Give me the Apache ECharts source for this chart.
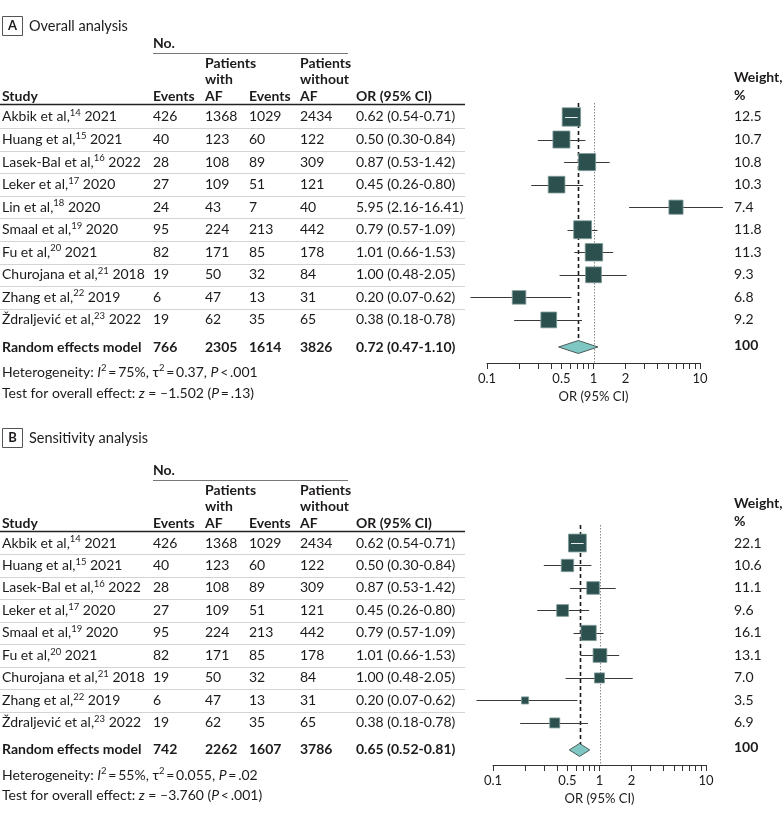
<!DOCTYPE html>
<html><head><meta charset="utf-8">
<script src="https://cdn.jsdelivr.net/npm/echarts@6/dist/echarts.min.js"></script>
<style>html,body{margin:0;padding:0;background:#fff}#c{width:783px;height:825px}</style>
</head><body><div id="c"></div>
<script>
// ---------- Panel A data ----------
const studiesA = ['Akbik et al,','Huang et al,','Lasek-Bal et al,','Leker et al,','Lin et al,','Smaal et al,','Fu et al,','Churojana et al,','Zhang et al,','Ždraljević et al,'];
const refsA = [14,15,16,17,18,19,20,21,22,23];
const yearsA = [2021,2021,2022,2020,2020,2020,2021,2018,2019,2022];
const eventsAfA = [426,40,28,27,24,95,82,19,6,19];
const totalAfA = [1368,123,108,109,43,224,171,50,47,62];
const eventsNoAfA = [1029,60,89,51,7,213,85,32,13,35];
const totalNoAfA = [2434,122,309,121,40,442,178,84,31,65];
const orA = [0.62,0.50,0.87,0.45,5.95,0.79,1.01,1.00,0.20,0.38];
const lowerA = [0.54,0.30,0.53,0.26,2.16,0.57,0.66,0.48,0.07,0.18];
const upperA = [0.71,0.84,1.42,0.80,16.41,1.09,1.53,2.05,0.62,0.78];
const weightA = [12.5,10.7,10.8,10.3,7.4,11.8,11.3,9.3,6.8,9.2];
const pooledCountsA = [766,2305,1614,3826];
const pooledOrA = [0.72,0.47,1.10];
const pooledWeightA = 100;
const hetA = ['75%','0.37','<','.001'];
const testA = ['–1.502','=','.13'];

// ---------- Panel B data ----------
const studiesB = ['Akbik et al,','Huang et al,','Lasek-Bal et al,','Leker et al,','Smaal et al,','Fu et al,','Churojana et al,','Zhang et al,','Ždraljević et al,'];
const refsB = [14,15,16,17,19,20,21,22,23];
const yearsB = [2021,2021,2022,2020,2020,2021,2018,2019,2022];
const eventsAfB = [426,40,28,27,95,82,19,6,19];
const totalAfB = [1368,123,108,109,224,171,50,47,62];
const eventsNoAfB = [1029,60,89,51,213,85,32,13,35];
const totalNoAfB = [2434,122,309,121,442,178,84,31,65];
const orB = [0.62,0.50,0.87,0.45,0.79,1.01,1.00,0.20,0.38];
const lowerB = [0.54,0.30,0.53,0.26,0.57,0.66,0.48,0.07,0.18];
const upperB = [0.71,0.84,1.42,0.80,1.09,1.53,2.05,0.62,0.78];
const weightB = [22.1,10.6,11.1,9.6,16.1,13.1,7.0,3.5,6.9];
const pooledCountsB = [742,2262,1607,3786];
const pooledOrB = [0.65,0.52,0.81];
const pooledWeightB = 100;
const hetB = ['55%','0.055','=','.02'];
const testB = ['–3.760','<','.001'];

// axis ticks
const tickValues = [0.1,0.2,0.3,0.4,0.5,0.6,0.7,0.8,0.9,1,2,3,4,5,6,7,8,9,10];
const tickLabels = [0.1,0.5,1,2,10];

// ---------- styling / layout ----------
const FONT = 'Lato, "Open Sans", sans-serif';
const TXT = '#1d1a1b';
const SQ = '#2b504e';
const DIA = '#7fc7c2';
const COLS = {study:2, ev1:153, tot1:205, ev2:249, tot2:300, or:356, w:734, tableEnd:465};
function richSet(size, bold){
  const fw = bold ? 'bold' : 'normal';
  return {
    n:{fontSize:size,fontFamily:FONT,fill:TXT,fontWeight:fw,lineHeight:18,verticalAlign:'middle'},
    b:{fontSize:size,fontFamily:FONT,fill:TXT,fontWeight:'bold',lineHeight:18,verticalAlign:'middle'},
    i:{fontSize:size,fontFamily:FONT,fill:TXT,fontStyle:'italic',lineHeight:18,verticalAlign:'middle'},
    s:{fontSize:9.5,fontFamily:FONT,fill:TXT,lineHeight:11,verticalAlign:'top'}
  };
}
function txt(x,y,text,opt){
  opt = opt||{};
  return {type:'text', x:x, y:y, silent:true, style:{text:text, fill:TXT, fontFamily:FONT,
    fontSize:opt.size||14, fontWeight:opt.bold?'bold':'normal', verticalAlign:'middle', align:opt.align||'left',
    rich: richSet(opt.size||14, opt.bold)}};
}
function line(x1,y1,x2,y2,color,w,dash){
  return {type:'line', silent:true, shape:{x1:x1,y1:y1,x2:x2,y2:y2}, style:{stroke:color,lineWidth:w,lineDash:dash||null}};
}

function headerGraphics(dy, titleY, letter, title, wy){
  return [
    {type:'rect', silent:true, shape:{x:2.5,y:titleY-9.5,width:20,height:19}, style:{fill:'#fff',stroke:'#555',lineWidth:1}},
    txt(12.5,titleY,letter,{bold:true,size:13,align:'center'}),
    txt(29,titleY,title,{size:14.5}),
    txt(COLS.ev1,43+dy,'No.',{bold:true}),
    line(COLS.ev1,53.5+dy,348,53.5+dy,'#777',1),
    txt(COLS.tot1,63+dy,'Patients',{bold:true}),
    txt(COLS.tot1,79.5+dy,'with',{bold:true}),
    txt(COLS.tot2,63+dy,'Patients',{bold:true}),
    txt(COLS.tot2,79.5+dy,'without',{bold:true}),
    txt(COLS.study,96+dy,'Study',{bold:true}),
    txt(COLS.ev1,96+dy,'Events',{bold:true}),
    txt(COLS.tot1,96+dy,'AF',{bold:true}),
    txt(COLS.ev2,96+dy,'Events',{bold:true}),
    txt(COLS.tot2,96+dy,'AF',{bold:true}),
    txt(COLS.or,96+dy,'OR (95% CI)',{bold:true}),
    line(0,104.5+dy,COLS.tableEnd,104.5+dy,'#222',1.5),
    txt(COLS.w,wy,'Weight,',{bold:true}),
    txt(COLS.w,wy+18,'%',{bold:true})
  ];
}
function footerGraphics(y1,y2,het,test){
  return [
    txt(COLS.study,y1,'{n|Heterogeneity: }{i|I}{s|2}{n|\u2009=\u2009'+het[0]+', τ}{s|2}{n|\u2009=\u2009'+het[1]+', }{i|P}{n|\u2009'+het[2]+'\u2009'+het[3]+'}'),
    txt(COLS.study,y2,'{n|Test for overall effect: }{i|z}{n| = '+test[0]+' (}{i|P}{n|\u2009'+test[1]+'\u2009'+test[2]+')}')
  ];
}

function tableSeries(g, d){
  const n = d.names.length;
  const data = d.names.map((_,i)=>[1,i]);
  data.push([1,d.poolRow]);
  return {type:'custom', xAxisIndex:g, yAxisIndex:g, clip:false, silent:true, z:1, data:data,
    renderItem:function(params, api){
      const idx = params.dataIndex;
      const y = api.coord([1, api.value(1)])[1];
      const ch = [];
      if (idx < n) {
        ch.push(txt(COLS.study,y,'{n|'+d.names[idx]+'}{s|'+d.refs[idx]+'}{n| '+d.years[idx]+'}'));
        ch.push(txt(COLS.ev1,y,String(d.e1[idx])));
        ch.push(txt(COLS.tot1,y,String(d.t1[idx])));
        ch.push(txt(COLS.ev2,y,String(d.e2[idx])));
        ch.push(txt(COLS.tot2,y,String(d.t2[idx])));
        ch.push(txt(COLS.or,y,d.or[idx].toFixed(2)+' ('+d.lo[idx].toFixed(2)+'-'+d.hi[idx].toFixed(2)+')'));
        ch.push(txt(COLS.w,y,d.w[idx].toFixed(1)));
        if (idx < n-1) {
          const ys = Math.round(api.coord([1, idx+0.5])[1])+0.5;
          ch.push(line(0,ys,COLS.tableEnd,ys,'#d4d4d4',1));
        }
      } else {
        const o = {bold:true};
        ch.push(txt(COLS.study,y,'Random effects model',o));
        ch.push(txt(COLS.ev1,y,String(d.pc[0]),o));
        ch.push(txt(COLS.tot1,y,String(d.pc[1]),o));
        ch.push(txt(COLS.ev2,y,String(d.pc[2]),o));
        ch.push(txt(COLS.tot2,y,String(d.pc[3]),o));
        ch.push(txt(COLS.or,y,d.po[0].toFixed(2)+' ('+d.po[1].toFixed(2)+'-'+d.po[2].toFixed(2)+')',o));
        ch.push(txt(COLS.w,y-2,String(d.pw),o));
      }
      return {type:'group', children:ch};
    }};
}

function refLineSeries(g, d){
  return {type:'custom', xAxisIndex:g, yAxisIndex:g, clip:false, silent:true, z:2,
    data:[[d.po[0], d.poolRow]],
    renderItem:function(params, api){
      const cs = params.coordSys;
      const x = Math.round(api.coord([api.value(0), 0])[0])+0.5;
      const x1 = Math.round(api.coord([1, 0])[0])+0.5;
      const yp = api.coord([1, api.value(1)])[1];
      return {type:'group', children:[
        line(x1, cs.y, x1, cs.y+cs.height, '#8a8a8a', 1, [1.5,1.5]),
        line(x, cs.y, x, yp, '#1a1a1a', 1.6, [4,3])
      ]};
    }};
}

function forestSeries(g, d, k){
  const data = d.or.map((v,i)=>[v, i, d.lo[i], d.hi[i], d.w[i]]);
  return {type:'custom', xAxisIndex:g, yAxisIndex:g, clip:false, silent:true, z:3, data:data,
    encode:{x:0,y:1},
    renderItem:function(params, api){
      const c = api.coord([api.value(0), api.value(1)]);
      const l = api.coord([api.value(2), api.value(1)])[0];
      const h = api.coord([api.value(3), api.value(1)])[0];
      const s = k*Math.sqrt(api.value(4));
      const y = Math.round(c[1])+0.5;
      const ch = [
        line(l,y,h,y,'#3a3a3a',1),
        {type:'rect', silent:true, shape:{x:c[0]-s/2,y:c[1]-s/2,width:s,height:s}, style:{fill:SQ,stroke:'#7d9997',lineWidth:0.8}}
      ];
      if (l > c[0]-s/2 && h < c[0]+s/2) ch.push(line(l,y,h,y,'#e8eeee',1));
      return {type:'group', children:ch};
    }};
}

function diamondSeries(g, d){
  return {type:'custom', xAxisIndex:g, yAxisIndex:g, clip:false, silent:true, z:4,
    data:[[d.po[0], d.poolRow, d.po[1], d.po[2]]], encode:{x:0,y:1},
    renderItem:function(params, api){
      const c = api.coord([api.value(0), api.value(1)]);
      const l = api.coord([api.value(2), api.value(1)])[0];
      const h = api.coord([api.value(3), api.value(1)])[0];
      const hh = 6.5;
      return {type:'polygon', silent:true, shape:{points:[[l,c[1]],[c[0],c[1]-hh],[h,c[1]],[c[0],c[1]+hh]]},
        style:{fill:DIA, stroke:'#2e3a39', lineWidth:0.8}};
    }};
}

function xAxisFor(g){
  return {type:'log', logBase:10, gridIndex:g, min:0.1, max:10, position:'bottom',
    name:'OR (95% CI)', nameLocation:'middle', nameGap:27,
    nameTextStyle:{fontFamily:FONT,fontSize:13,color:TXT},
    axisLine:{show:true,onZero:false,lineStyle:{color:'#333',width:1}},
    axisTick:{show:true,length:6,customValues:tickValues,lineStyle:{color:'#333',width:1}},
    minorTick:{show:false},
    axisLabel:{customValues:tickLabels,fontFamily:FONT,fontSize:13,color:TXT,margin:9,
      formatter:function(v){return String(+(+v).toPrecision(3));}},
    splitLine:{show:false}};
}

const dA = {names:studiesA, refs:refsA, years:yearsA, e1:eventsAfA, t1:totalAfA, e2:eventsNoAfA, t2:totalNoAfA,
  or:orA, lo:lowerA, hi:upperA, w:weightA, pc:pooledCountsA, po:pooledOrA, pw:pooledWeightA, poolRow:studiesA.length+0.2};
const dB = {names:studiesB, refs:refsB, years:yearsB, e1:eventsAfB, t1:totalAfB, e2:eventsNoAfB, t2:totalNoAfB,
  or:orB, lo:lowerB, hi:upperB, w:weightB, pc:pooledCountsB, po:pooledOrB, pw:pooledWeightB, poolRow:studiesB.length+0.2};

const chart = echarts.init(document.getElementById('c'), null, {renderer:'canvas'});
chart.setOption({
  animation:false,
  backgroundColor:'#fff',
  grid:[
    {left:487, width:213, top:103, height:260},
    {left:493, width:213, top:525, height:240}
  ],
  xAxis:[xAxisFor(0), xAxisFor(1)],
  yAxis:[
    {type:'value', gridIndex:0, inverse:true, min:-0.62, max:10.91, show:false},
    {type:'value', gridIndex:1, inverse:true, min:-0.8, max:9.87, show:false}
  ],
  graphic:{elements:[].concat(
    headerGraphics(0, 26, 'A', 'Overall analysis', 77),
    headerGraphics(427, 438, 'B', 'Sensitivity analysis', 503),
    footerGraphics(372, 393, hetA, testA),
    footerGraphics(775, 795, hetB, testB)
  )},
  series:[
    tableSeries(0,dA), refLineSeries(0,dA), forestSeries(0,dA,5.2), diamondSeries(0,dA),
    tableSeries(1,dB), refLineSeries(1,dB), forestSeries(1,dB,3.8), diamondSeries(1,dB)
  ]
});
</script></body></html>
